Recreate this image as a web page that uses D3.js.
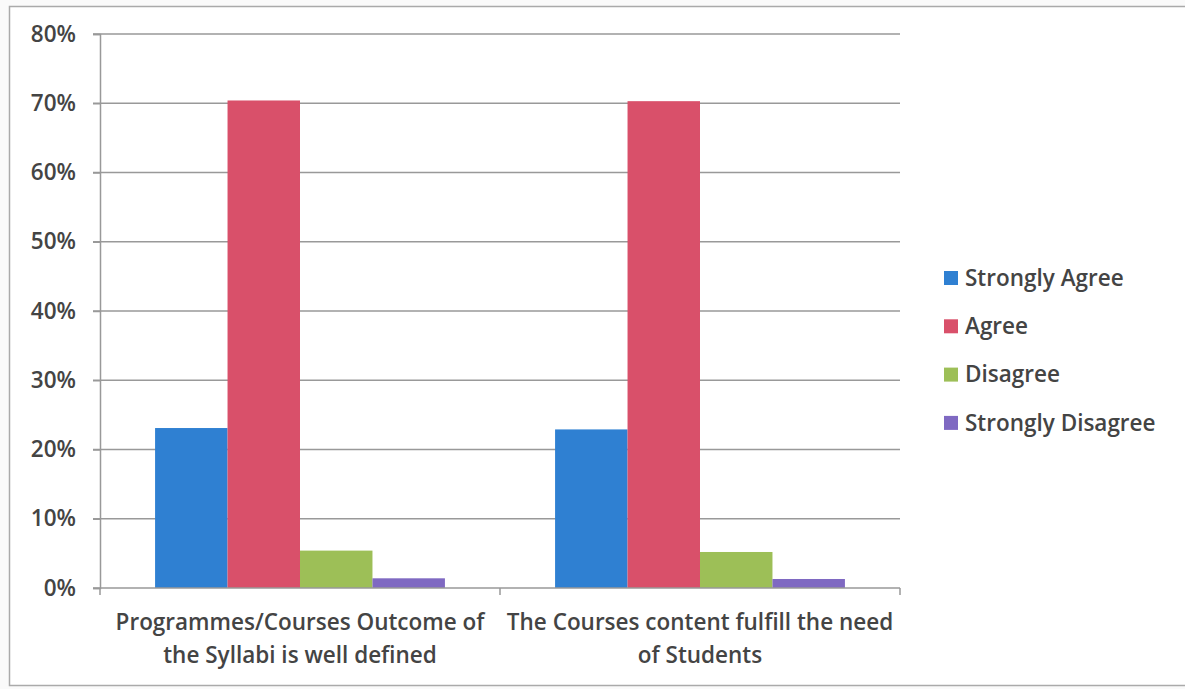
<!DOCTYPE html>
<html><head><meta charset="utf-8">
<script src="https://cdn.jsdelivr.net/npm/d3@7"></script>
<style>body{margin:0;background:#fff;}svg{display:block;}</style>
</head><body>
<svg id="c" width="1185" height="689"></svg>
<script>
const categories = [
  ["Programmes/Courses Outcome of", "the Syllabi is well defined"],
  ["The Courses content fulfill the need", "of Students"]
];
const seriesNames = ["Strongly Agree", "Agree", "Disagree", "Strongly Disagree"];
const seriesColors = ["#2f80d2", "#d9506a", "#9dbf57", "#7f69c2"];
const stronglyAgree = [0.231, 0.229];
const agree = [0.704, 0.703];
const disagree = [0.054, 0.052];
const stronglyDisagree = [0.014, 0.013];
const yTicks = [0, 0.1, 0.2, 0.3, 0.4, 0.5, 0.6, 0.7, 0.8];

const series = [stronglyAgree, agree, disagree, stronglyDisagree];
const svg = d3.select("#c");
const font = "'Open Sans', Lato, sans-serif";
const textColor = "#444";
const fs = 22.5;

svg.append("rect").attr("x", 0).attr("y", 0).attr("width", 1185).attr("height", 689).attr("fill", "#fafafa");
svg.append("rect").attr("x", 9.5).attr("y", 6.5).attr("width", 1190).attr("height", 679)
  .attr("fill", "#fff").attr("stroke", "#aaa").attr("stroke-width", 1.5);

const m = {l: 100, r: 900, t: 34, b: 588};
const y = d3.scaleLinear().domain([0, 0.8]).range([m.b, m.t]);
const catIdx = categories.map((d, i) => i);
const x0 = d3.scaleBand().domain(catIdx).range([m.l, m.r]).padding(0);
const x1 = d3.scaleBand().domain(d3.range(series.length)).range([0, x0.bandwidth()]).paddingInner(0).paddingOuter(0.76);

// gridlines
svg.append("g").selectAll("line").data(yTicks.filter(d => d > 0)).join("line")
  .attr("x1", m.l - 7).attr("x2", m.r).attr("y1", d => y(d)).attr("y2", d => y(d))
  .attr("stroke", "#999").attr("stroke-width", 1.5);

// y axis
const yAxis = svg.append("g").attr("transform", `translate(${m.l},0)`)
  .call(d3.axisLeft(y).tickValues(yTicks).tickFormat(d3.format(".0%")).tickSize(7).tickPadding(17));
yAxis.select(".domain").attr("stroke", "#999").attr("stroke-width", 1.5);
yAxis.selectAll(".tick line").attr("stroke", "#999").attr("stroke-width", 1.5);
yAxis.selectAll("text").attr("font-family", font).attr("font-size", fs).attr("font-weight", 600).attr("fill", textColor);

// bars
const g = svg.append("g");
categories.forEach((c, ci) => {
  series.forEach((s, si) => {
    g.append("rect")
      .attr("x", x0(ci) + x1(si)).attr("width", x1.bandwidth())
      .attr("y", y(s[ci])).attr("height", y(0) - y(s[ci]))
      .attr("fill", seriesColors[si]);
  });
});

// x axis
const xAxis = svg.append("g").attr("transform", `translate(0,${m.b})`);
xAxis.append("line").attr("x1", m.l - 7).attr("x2", m.r).attr("stroke", "#999").attr("stroke-width", 1.5);
[m.l, m.l + x0.bandwidth(), m.r].forEach(xx => {
  xAxis.append("line").attr("x1", xx).attr("x2", xx).attr("y1", 0).attr("y2", 7).attr("stroke", "#999").attr("stroke-width", 1.5);
});
categories.forEach((c, ci) => {
  const t = xAxis.append("text").attr("x", x0(ci) + x0.bandwidth() / 2).attr("y", 42)
    .attr("text-anchor", "middle").attr("font-family", font).attr("font-size", fs).attr("font-weight", 600)
    .attr("fill", textColor);
  c.forEach((line, li) => t.append("tspan").attr("x", x0(ci) + x0.bandwidth() / 2).attr("dy", li ? 33 : 0).text(line));
});

// legend
const lg = svg.append("g").attr("transform", "translate(944,278)");
seriesNames.forEach((n, i) => {
  const row = lg.append("g").attr("transform", `translate(0,${i * 48.3})`);
  row.append("rect").attr("x", 0).attr("y", -7).attr("width", 14).attr("height", 14).attr("fill", seriesColors[i]);
  row.append("text").attr("x", 21).attr("y", 0).attr("dy", "0.35em").attr("font-family", font)
    .attr("font-size", fs).attr("font-weight", 600).attr("fill", textColor).text(n);
});
</script>
</body></html>
